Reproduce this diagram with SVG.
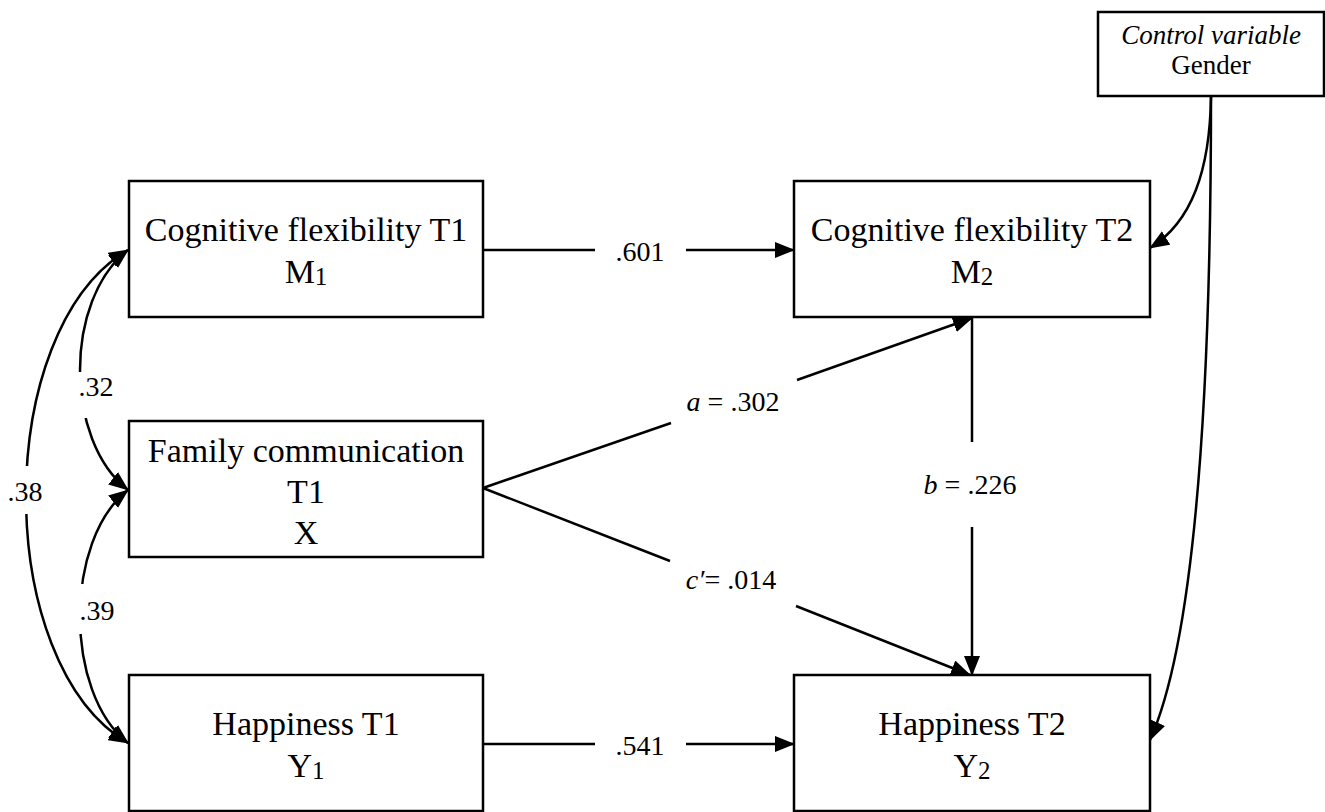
<svg xmlns="http://www.w3.org/2000/svg" width="1325" height="812" viewBox="0 0 1325 812">
<style>
.box{fill:#fff;stroke:#000;stroke-width:2.5}
.t{font-family:"Liberation Serif","Times New Roman",serif;font-size:34px;fill:#000;text-anchor:middle}
.s{font-size:25px}
.g{font-size:27px}
.lbl{font-family:"Liberation Serif","Times New Roman",serif;font-size:28px;fill:#000;text-anchor:middle}
.ln{fill:none;stroke:#000;stroke-width:2.5}
.arr{marker-end:url(#ah)}
.dbl{marker-start:url(#ah);marker-end:url(#ah)}
.bg{fill:#fff}
</style>
<defs>
<marker id="ah" markerUnits="userSpaceOnUse" markerWidth="20" markerHeight="16" viewBox="0 0 20 16" refX="19" refY="8" orient="auto-start-reverse">
<path d="M0,0 L20,8 L0,16 z" fill="#000"/>
</marker>
</defs>
<rect width="1325" height="812" fill="#fff"/>
<g id="connectors">
<path class="ln dbl" d="M128,250 C-8,330 -8,663 128,743"/>
<path class="ln dbl" d="M128,250 C64,300 64,440 128,490"/>
<path class="ln dbl" d="M128,490 C64,540 64,693 128,743"/>
<rect class="bg" x="4" y="466" width="44" height="48"/>
<rect class="bg" x="74" y="372" width="44" height="46"/>
<rect class="bg" x="74" y="584" width="44" height="50"/>
<text class="lbl" x="25" y="501">.38</text>
<text class="lbl" x="96" y="396">.32</text>
<text class="lbl" x="97" y="620">.39</text>
<path class="ln" d="M483,250 L595,250"/>
<path class="ln arr" d="M686,250 L794,250"/>
<text class="lbl" x="640" y="261">.601</text>
<path class="ln" d="M483,744 L595,744"/>
<path class="ln arr" d="M686,744 L794,744"/>
<text class="lbl" x="640" y="755">.541</text>
<path class="ln" d="M483,488 L671,423"/>
<path class="ln arr" d="M797,380 L972,318"/>
<text class="lbl" x="733" y="411"><tspan font-style="italic">a</tspan> = .302</text>
<path class="ln" d="M483,488 L670,561"/>
<path class="ln arr" d="M796,606 L970,675"/>
<text class="lbl" x="731" y="589"><tspan font-style="italic">c′</tspan>= .014</text>
<path class="ln" d="M972,318 L972,442"/>
<path class="ln arr" d="M972,527 L972,675"/>
<text class="lbl" x="970" y="494"><tspan font-style="italic">b</tspan> = .226</text>
<path class="ln arr" d="M1211,96 C1210,170 1192,222 1150,248"/>
<path class="ln arr" d="M1211,96 C1211,400 1195,640 1150,740"/>
</g>
<g id="gender">
<rect class="box" x="1098" y="12" width="226" height="84"/>
<text class="t g" x="1211" y="44" font-style="italic">Control variable</text>
<text class="t g" x="1211" y="74">Gender</text>
</g>
<g id="cogT1">
<rect class="box" x="129" y="181" width="354" height="136"/>
<text class="t" x="306" y="241">Cognitive flexibility T1</text>
<text class="t" x="306" y="283">M<tspan class="s" dy="2">1</tspan></text>
</g>
<g id="family">
<rect class="box" x="129" y="421" width="354" height="136"/>
<text class="t" x="306" y="462">Family communication</text>
<text class="t" x="306" y="503">T1</text>
<text class="t" x="306" y="544">X</text>
</g>
<g id="happyT1">
<rect class="box" x="129" y="675" width="354" height="136"/>
<text class="t" x="306" y="735">Happiness T1</text>
<text class="t" x="306" y="777">Y<tspan class="s" dy="2">1</tspan></text>
</g>
<g id="cogT2">
<rect class="box" x="794" y="181" width="356" height="136"/>
<text class="t" x="972" y="241">Cognitive flexibility T2</text>
<text class="t" x="972" y="283">M<tspan class="s" dy="2">2</tspan></text>
</g>
<g id="happyT2">
<rect class="box" x="794" y="675" width="356" height="136"/>
<text class="t" x="972" y="735">Happiness T2</text>
<text class="t" x="972" y="777">Y<tspan class="s" dy="2">2</tspan></text>
</g>
</svg>
